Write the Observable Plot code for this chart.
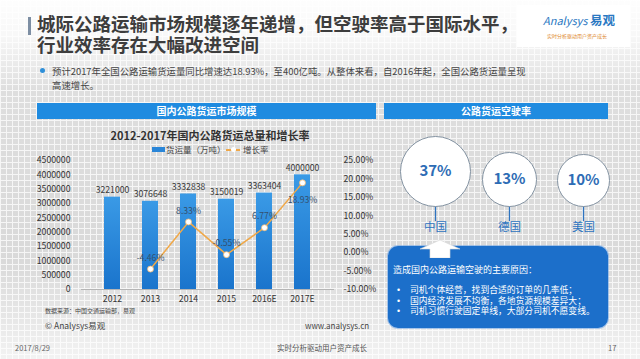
<!DOCTYPE html>
<html>
<head>
<meta charset="utf-8">
<script src="https://cdn.jsdelivr.net/npm/d3@7"></script>
<script src="https://cdn.jsdelivr.net/npm/@observablehq/plot@0.6"></script>
<style>
  html, body { margin: 0; padding: 0; }
  body {
    width: 640px; height: 359px; overflow: hidden; position: relative;
    font-family: "Noto Sans CJK SC", "Noto Sans", sans-serif; color: #333;
    background:
      linear-gradient(to bottom, rgba(255,255,255,0.97) 0px, rgba(255,255,255,0.85) 35px, rgba(255,255,255,0.3) 90px, rgba(255,255,255,0.2) 260px, rgba(255,255,255,0.5) 320px, rgba(255,255,255,0.75) 359px),
      repeating-linear-gradient(to right, #f3f3f3 0 1px, transparent 1px 6px),
      repeating-linear-gradient(to bottom, #f3f3f3 0 1px, transparent 1px 6px),
      #d0d0d0;
  }
  .abs { position: absolute; white-space: nowrap; }
  .tight { font-family: "Liberation Sans", "Noto Sans CJK SC", sans-serif; }
  .title { left: 37px; top: 14px; font-size: 18.5px; font-weight: 700; color: #3d3d3d; line-height: 21px; }
  .hdr { background: #1f8be0; color: #fff; font-size: 10px; font-weight: 700; text-align: center; line-height: 16px; height: 16px; }
  .bi { display: inline-block; width: 13px; }
  #chart, #circles { position: absolute; }
  #chart svg, #circles svg { overflow: visible; }
</style>
</head>
<body>
<div class="abs" style="left:28px;top:17px;width:3px;height:18px;background:#7d8ea3;"></div>
<div class="abs title tight">城际公路运输市场规模逐年递增，但空驶率高于国际水平，<br>行业效率存在大幅改进空间</div>

<div class="abs" style="left:517px;top:5px;width:113px;height:42px;background:#fff;"></div>
<div class="abs" style="left:543px;top:13px;font-size:11px;line-height:13px;color:#2a78c2;"><i>Analysys</i> <b style="font-size:12.5px;">易观</b><br><span style="font-size:5px;line-height:8px;color:#e08a30;margin-left:4px;">实时分析驱动用户资产成长</span></div>

<div class="abs" style="left:40px;top:68px;width:5px;height:5px;border-radius:50%;background:#2f8fd8;"></div>
<div class="abs" style="left:52px;top:64px;font-size:9.4px;line-height:14px;color:#444;">预计2017年全国公路运输货运量同比增速达18.93%，至400亿吨。从整体来看，自2016年起，全国公路货运量呈现<br>高速增长。</div>

<div class="abs hdr" style="left:37px;top:103px;width:339px;">国内公路货运市场规模</div>
<div class="abs hdr" style="left:384px;top:103px;width:224px;">公路货运空驶率</div>

<div class="abs" style="left:0;width:420px;top:127px;text-align:center;font-size:11px;font-weight:700;color:#333;">2012-2017年国内公路货运总量和增长率</div>
<div class="abs" style="left:152px;top:147px;width:13px;height:5px;background:#2a86d8;"></div>
<div class="abs" style="left:166px;top:143px;font-size:8.5px;color:#444;">货运量（万吨）</div>
<div class="abs" style="left:226px;top:149px;width:14px;height:1.5px;background:#f0a848;"></div>
<div class="abs" style="left:231px;top:147px;width:5px;height:5px;border-radius:50%;background:#fff;"></div>
<div class="abs" style="left:243px;top:143px;font-size:8.5px;color:#444;">增长率</div>

<div id="chart" style="left:0;top:150px;"></div>
<div id="circles" style="left:380px;top:125px;"></div>

<div class="abs" style="left:388px;top:246px;width:220px;height:82px;border-radius:10px;background:#1c6fca;box-shadow:0 0 0 1px rgba(120,170,230,0.6);"></div>
<svg class="abs" style="left:418px;top:238px;" width="44" height="20"><polygon points="22,2 42,11 32,11 32,20 12,20 12,11 2,11" fill="#fff" stroke="#d8d8d8" stroke-width="0.6"/></svg>
<div class="abs" style="left:393px;top:263px;font-size:9px;color:#fff;">造成国内公路运输空驶的主要原因：</div>
<div class="abs tight" style="left:397px;top:285px;font-size:8.8px;line-height:10.5px;color:#fff;"><span class="bi">•</span>司机个体经营，找到合适的订单的几率低；<br><span class="bi">•</span>国内经济发展不均衡，各地货源规模差异大；<br><span class="bi">•</span>司机习惯行驶固定单线，大部分司机不愿变线。</div>

<div class="abs" style="left:45px;top:306px;font-size:6px;color:#444;">数据来源：中国交通运输部，易观</div>
<div class="abs" style="left:45px;top:319px;font-size:8.5px;color:#444;">© Analysys易观</div>
<div class="abs" style="left:305px;top:320px;font-size:8px;color:#444;">www.analysys.cn</div>
<div class="abs" style="left:15px;top:342px;font-size:7.5px;color:#666;">2017/8/29</div>
<div class="abs" style="left:277px;top:342px;font-size:7.5px;color:#555;">实时分析驱动用户资产成长</div>
<div class="abs" style="left:608px;top:342px;font-size:7.5px;color:#666;">17</div>

<script>
// ---- data ----
const years = ["2012", "2013", "2014", "2015", "2016E", "2017E"];
const volume = [3221000, 3076648, 3332838, 3150019, 3363404, 4000000];
const growth = [null, -4.46, 8.33, -0.55, 6.77, 18.93];
const leftTicks = [0, 500000, 1000000, 1500000, 2000000, 2500000, 3000000, 3500000, 4000000, 4500000];
const rightTicks = [-10, -5, 0, 5, 10, 15, 20, 25];

const countries = ["中国", "德国", "美国"];
const emptyRate = [37, 13, 10];

// ---- main chart ----
const yMax = 4500000, gMin = -10, gMax = 25;
const toY = g => (g - gMin) / (gMax - gMin) * yMax;
const fromY = v => v / yMax * (gMax - gMin) + gMin;

const rows = years.map((year, i) => ({year, volume: volume[i], growth: growth[i], gy: growth[i] == null ? null : toY(growth[i])}));
const lineRows = rows.filter(d => d.growth != null);
const lastRow = lineRows.slice(-1);
const otherRows = lineRows.slice(0, -1);

const chart = Plot.plot({
  width: 400, height: 160,
  marginLeft: 81, marginRight: 66, marginTop: 10, marginBottom: 21,
  style: {background: "transparent", fontFamily: "'Noto Sans CJK SC', 'Noto Sans', sans-serif", fontSize: "8.7px", color: "#333", overflow: "visible"},
  x: {domain: years, padding: 0.57, label: null, axis: null},
  y: {domain: [0, yMax], label: null, axis: null},
  marks: [
    () => {
      const ns = "http://www.w3.org/2000/svg";
      const defs = document.createElementNS(ns, "defs");
      defs.innerHTML = '<linearGradient id="barGrad" x1="0" y1="0" x2="0" y2="1"><stop offset="0" stop-color="#3a9ae6"/><stop offset="1" stop-color="#1a74cc"/></linearGradient>';
      return defs;
    },
    Plot.barY(rows, {x: "year", y: "volume", fill: "url(#barGrad)"}),
    Plot.ruleY([0], {stroke: "#b5b5b5"}),
    Plot.axisY(leftTicks, {tickSize: 0, tickPadding: 11, tickFormat: d => String(d), label: null, fill: "#333"}),
    Plot.axisY(rightTicks.map(toY), {anchor: "right", tickSize: 0, tickPadding: 9, tickFormat: v => fromY(v).toFixed(2) + "%", label: null, fill: "#333"}),
    Plot.axisX({tickSize: 0, tickPadding: 6, label: null, fill: "#333"}),
    Plot.text(rows, {x: "year", y: "volume", text: d => String(d.volume), dy: -4, lineAnchor: "bottom", fill: "#3a3a3a"}),
    Plot.line(lineRows, {x: "year", y: "gy", stroke: "#f0a848", strokeWidth: 1.5}),
    Plot.dot(lineRows, {x: "year", y: "gy", r: 3, fill: "#fff", stroke: "#f2b870", strokeWidth: 0.8}),
    Plot.text(otherRows, {x: "year", y: "gy", text: d => d.growth.toFixed(2) + "%", dy: -11, fill: "#33506e"}),
    Plot.text(lastRow, {x: "year", y: "gy", text: d => d.growth.toFixed(2) + "%", dy: 17, fill: "#33506e"})
  ]
});
document.getElementById("chart").appendChild(chart);

// ---- circles ----
const rateRows = countries.map((country, i) => ({country, rate: emptyRate[i]}));
const circles = Plot.plot({
  width: 240, height: 120,
  marginTop: 81, marginBottom: 24, marginLeft: 0, marginRight: 0,
  style: {background: "transparent", fontFamily: "'Noto Sans CJK SC', 'Noto Sans', sans-serif", overflow: "visible"},
  x: {type: "point", domain: countries, range: [54, 203], padding: 0, axis: null},
  y: {domain: [10, 37], range: [55, 46], axis: null},
  r: {type: "linear", domain: [10, 37], range: [26, 35]},
  marks: [
    Plot.ruleX(countries, {x: d => d, stroke: "#2e74c0", strokeWidth: 1.3}),
    Plot.dot(rateRows, {x: "country", y: "rate", r: "rate", fill: "#fff", stroke: "#8493a2", strokeWidth: 1}),
    Plot.text(rateRows, {x: "country", y: "rate", text: d => d.rate + "%", fill: "#2d6cb5", fontWeight: "bold", fontSize: 15}),
    Plot.text(rateRows, {x: "country", text: "country", frameAnchor: "bottom", dy: 9, fill: "#2e74c0", fontSize: 11.5})
  ]
});
document.getElementById("circles").appendChild(circles);
</script>
</body>
</html>
